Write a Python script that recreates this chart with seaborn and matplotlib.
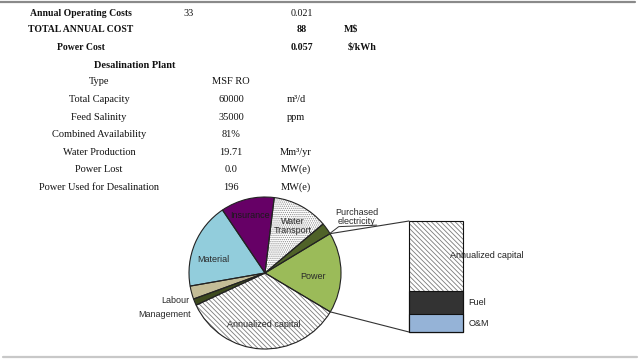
""" Cost table with a pie-of-bar breakdown """

import numpy as np
import pandas as pd
import seaborn as sns
import matplotlib.pyplot as plt
from matplotlib.patches import ConnectionPatch

# table rows
cost_labels = ["Annual Operating Costs", "TOTAL ANNUAL COST", "Power Cost"]
cost_values = ["33", "", ""]
cost_values2 = ["0.021", "88", "0.057"]
cost_units = ["", r"M\$", r"\$/kWh"]

plant_title = "Desalination Plant"
plant_labels = ["Type", "Total Capacity", "Feed Salinity", "Combined Availability",
                "Water Production", "Power Lost", "Power Used for Desalination"]
plant_values = ["MSF RO", "60000", "35000", "81%", "19.71", "0.0", "196"]
plant_units = ["", "m³/d", "ppm", "", "Mm³/yr", "MW(e)", "MW(e)"]

# pie (share of annual cost, %)
pie_labels = ["Insurance", "Material", "Labour", "Management", "Annualized capital",
              "Power", "Purchased\nelectricity", "Water\nTransport"]
pie_shares = [11.4, 18.3, 2.8, 1.4, 34.5, 17.2, 2.5, 11.9]

# bar (breakdown of power cost, %), bottom to top
power_parts = ["O&M", "Fuel", "Annualized capital"]
power_shares = [16, 21, 63]

sns.set_style("white")
plt.rcParams['font.family'] = ['Liberation Sans', 'DejaVu Sans']
plt.rcParams['hatch.linewidth'] = 0.6

W, H = 640, 359
fig = plt.figure(figsize=(6.4, 3.59), dpi=100)


def ftext(x, y, s, **kw):
    fig.text(x / W, 1 - y / H, s, ha='center', va='center',
             family='Liberation Serif', color='#111111', **kw)


# ---- table ----
fig.add_artist(plt.Line2D([0, 635 / W], [1 - 2 / H] * 2, color='#8a8a8a', lw=1.6))
fig.add_artist(plt.Line2D([3 / W, 637 / W], [1 - 357 / H] * 2, color='#c8c8c8', lw=1.6))

for i, (lab, v1, v2, u) in enumerate(zip(cost_labels, cost_values, cost_values2, cost_units)):
    y = [13, 29, 47][i]
    ftext(81, y, lab, fontsize=7.0, weight='bold')
    ftext(189, y, v1, fontsize=7.3)
    ftext(302, y, v2, fontsize=7.2, weight='normal' if i == 0 else 'bold')
    ftext(351 if i == 1 else 362, y, u, fontsize=7.2, weight='bold')

ftext(135, 65, plant_title, fontsize=7.5, weight='bold')
for i, (lab, v, u) in enumerate(zip(plant_labels, plant_values, plant_units)):
    y = 82 + i * 17.5
    ftext(99, y, lab, fontsize=7.5)
    ftext(231, y, v, fontsize=7.5)
    ftext(296, y, u, fontsize=7.5)

# ---- pie ----
ax = fig.add_axes([189 / W, 10 / H, 152 / W, 152 / H])
fills = ["#660066", "#92cddc", "#c4bd97", "#3d4a1e", "white", "#9bbb59", "#4f6228", "white"]
hatches = [None, None, None, None, "\\\\\\\\\\\\\\", None, None, "........"]
hatch_cols = ["none", "none", "none", "none", "#7a7a7a", "none", "none", "#8a8a8a"]

wedges, _ = ax.pie(pie_shares, startangle=83, counterclock=True, colors=fills,
                   hatch=hatches, wedgeprops=dict(linewidth=0))
for w, hc in zip(wedges, hatch_cols):
    w.set_edgecolor(hc)
outline, _ = ax.pie(pie_shares, startangle=83, counterclock=True, colors=['none'] * 8,
                    wedgeprops=dict(edgecolor='#222222', linewidth=0.8))
for w in outline:
    w.set_clip_on(False)
ax.set_xlim(-1, 1)
ax.set_ylim(-1, 1)
ax.axis('off')

label_pos = {
    "Insurance": (-0.20, 0.76, 'center'),
    "Material": (-0.68, 0.18, 'center'),
    "Labour": (-0.99, -0.36, 'right'),
    "Management": (-0.97, -0.55, 'right'),
    "Annualized capital": (-0.01, -0.68, 'center'),
    "Power": (0.63, -0.04, 'center'),
    "Purchased\nelectricity": (1.21, 0.74, 'center'),
    "Water\nTransport": (0.37, 0.62, 'center'),
}
for lab in pie_labels:
    x, y, ha = label_pos[lab]
    ax.text(x, y, lab, ha=ha, va='center', fontsize=6.5,
            color='#2a2a2a' if lab != "Insurance" else '#1a1a1a', linespacing=1.0)

# leader for purchased electricity
ax.plot([0.84, 0.97, 1.47], [0.51, 0.61, 0.63], color='#333333', lw=0.7, clip_on=False)

# ---- bar ----
bx = fig.add_axes([409 / W, 27 / H, 54 / W, 111 / H])
df = pd.DataFrame({"part": power_parts, "share": power_shares})
df["top"] = np.cumsum(df["share"])
bar_fills = {"O&M": "#95b3d7", "Fuel": "#333333", "Annualized capital": "white"}

for _, row in df[::-1].iterrows():
    if row["part"] == "Annualized capital":
        sns.barplot(x=[0], y=[row["top"]], color="white", saturation=1, width=1,
                    hatch="\\\\\\\\\\\\\\", edgecolor="#7a7a7a", linewidth=0,
                    errorbar=None, ax=bx)
    else:
        sns.barplot(x=[0], y=[row["top"]], color=bar_fills[row["part"]], saturation=1,
                    width=1, edgecolor="#111111", linewidth=0.8, errorbar=None, ax=bx)
sns.barplot(x=[0], y=[df["top"].iloc[-1]], fill=False, color="#111111", width=1,
            linewidth=0.8, errorbar=None, ax=bx)
for p in bx.patches:
    p.set_clip_on(False)
bx.set_xlim(-0.5, 0.5)
bx.set_ylim(0, 100)
bx.axis('off')

mids = df["top"] - df["share"] / 2
for (_, row), m in zip(df.iterrows(), mids):
    x = 0.26 if row["part"] == "Annualized capital" else 0.6
    bx.text(x, m, row["part"], ha='left', va='center', fontsize=6.5, color='#222222')

# connector lines from the power slice to the bar
pw = wedges[pie_labels.index("Power")]
for ang, yb in [(pw.theta2, 100), (pw.theta1, 0)]:
    a = np.deg2rad(ang)
    con = ConnectionPatch(xyA=(np.cos(a), np.sin(a)), coordsA=ax.transData,
                          xyB=(-0.5, yb), coordsB=bx.transData,
                          color='#333333', lw=0.8)
    fig.add_artist(con)

fig.savefig("out.png", dpi=100)
